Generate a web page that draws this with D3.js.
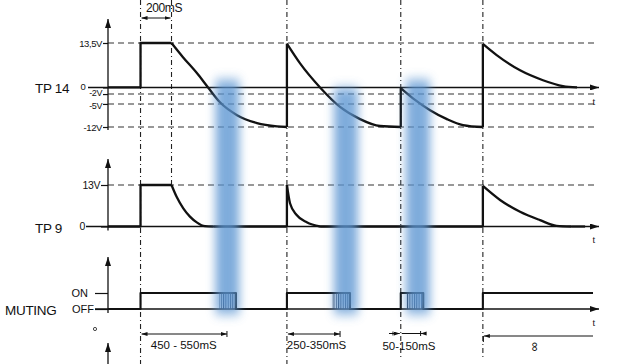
<!DOCTYPE html>
<html><head><meta charset="utf-8">
<script src="https://cdn.jsdelivr.net/npm/d3@7"></script>
<style>
body{margin:0;background:#fff}
svg{display:block}
text{font-family:"Liberation Sans",Arial,sans-serif;fill:#111}
</style>
</head><body><svg id="c" width="629" height="364"></svg>
<script>
// ---------------- data ----------------
const eventTimes = [210, 410, 1155, 1890, 2420];           // ms (schematic)
const tp14Ticks = [13.5, 0, -2, -5, -12];
const tp14Labels = ["13,5V", "0", "-2V", "-5V", "-12V"];
const tp9Ticks = [13, 0];
const tp9Labels = ["13V", "0"];
const mutingTicks = [1, 0];
const mutingLabels = ["ON", "OFF"];

const tp14Steps = [[0,0],[210,0],[210,13.5],[410,13.5]];
const tp14Decay1 = [[410,13.5],[484,9.2],[575,4.3],[646,0],[723,-4.5],[833,-8.4],[962,-10.8],[1091,-11.8],[1155,-12]];
const tp14Jump1 = [[1155,-12],[1155,13.3]];
const tp14Decay2 = [[1155,13.3],[1240,7.3],[1369,0],[1498,-5.9],[1627,-9.6],[1756,-11.7],[1890,-12]];
const tp14Jump2 = [[1890,-12],[1890,-0.2]];
const tp14Decay3 = [[1890,-0.2],[1969,-3.3],[2079,-6.9],[2188,-9.6],[2292,-11.4],[2420,-12]];
const tp14Jump3 = [[2420,-12],[2420,13.2]];
const tp14Decay4 = [[2420,13.2],[2509,9.8],[2660,5.2],[2808,2.2],[2937,0.4],[3028,0]];

const tp9Steps = [[0,0],[210,0],[210,13],[410,13]];
const tp9Decay1 = [[410,13],[443,9.3],[486,5.7],[529,3.1],[573,1.3],[626,0.1],[680,0]];
const tp9Flat1 = [[680,0],[1155,0],[1155,13]];
const tp9Decay2 = [[1155,13],[1175,7.3],[1218,3.6],[1283,1.3],[1369,0]];
const tp9Flat2 = [[1369,0],[2420,0],[2420,12.7]];
const tp9Decay3 = [[2420,12.7],[2531,8.3],[2660,4.6],[2789,2.0],[2896,0.2],[2990,0]];
const tp9Flat3 = [[2990,0],[3080,0]];

const mutingWave = [[0,0],[210,0],[210,1],[826,1],[826,0],[1155,0],[1155,1],[1562,1],[1562,0],
                    [1890,0],[1890,1],[2035,1],[2035,0],[2420,0],[2420,1],[3131,1]];
const mutingHatch = [[717,826],[1446,1562],[1924,2035]];
const dimensions = [
  {from:210, to:768, label:"450 - 550mS"},
  {from:1155, to:1498, label:"250-350mS"}
];
const shortDim = {from:1814, mid:1890, end:2046, label:"50-150mS"};
const holdDim = {from:210, to:410, label:"200mS"};
const infDim = {from:2420, to:3131, label:"∞"};
const highlightCenters = [771, 1536, 2001];

// ---------------- scales ----------------
const x = d3.scaleLinear().domain([0, 3160]).range([108, 597.5]);
const y14 = d3.scaleLinear().domain([-12, 13.5]).range([127, 43]);
const y9 = d3.scaleLinear().domain([0, 13]).range([226.5, 185]);
const yM = d3.scaleLinear().domain([0, 1]).range([309, 293]);

const svg = d3.select("#c");
const defs = svg.append("defs");
function marker(id, w, h){
  defs.append("marker").attr("id", id).attr("markerUnits","userSpaceOnUse")
    .attr("markerWidth", w).attr("markerHeight", h).attr("refX", w).attr("refY", h/2)
    .attr("orient","auto-start-reverse")
    .append("path").attr("d",`M0,0L${w},${h/2}L0,${h}Z`).attr("fill","#111");
}
marker("ax", 9, 6);
marker("dm", 6, 4);
defs.append("filter").attr("id","blur").attr("x","-150%").attr("y","-20%").attr("width","400%").attr("height","140%")
  .append("feGaussianBlur").attr("stdDeviation","5 6");
const pat = defs.append("pattern").attr("id","hatch").attr("patternUnits","userSpaceOnUse").attr("width",2.3).attr("height",10);
pat.append("rect").attr("width",1).attr("height",10).attr("fill","#1b2840");

const dashH = "6,4", dashV = "5,3,1,3";

// ---------------- vertical dashed event lines ----------------
const vEnds = [364, 186, 364, 358, 358];
svg.append("g").selectAll("line").data(eventTimes).join("line")
  .attr("x1", d => x(d)).attr("x2", d => x(d))
  .attr("y1", 0).attr("y2", (d,i) => vEnds[i])
  .attr("stroke","#222").attr("stroke-width",1.1).attr("stroke-dasharray",dashV);

// ---------------- horizontal dashed reference lines ----------------
svg.append("g").selectAll("line").data(tp14Ticks.filter(d => d !== 0)).join("line")
  .attr("x1", 108).attr("x2", 597).attr("y1", d => y14(d)).attr("y2", d => y14(d))
  .attr("stroke","#333").attr("stroke-width",1.1).attr("stroke-dasharray",dashH);
svg.append("g").selectAll("line").data(tp9Ticks.filter(d => d !== 0)).join("line")
  .attr("x1", 108).attr("x2", 597).attr("y1", d => y9(d)).attr("y2", d => y9(d))
  .attr("stroke","#333").attr("stroke-width",1.1).attr("stroke-dasharray",dashH);

// ---------------- axes ----------------
function tickAxis(scale, vals, labels, size, fs){
  const g = svg.append("g").attr("transform","translate(108,0)")
    .call(d3.axisLeft(scale).tickValues(vals).tickFormat((d,i)=>labels[i]).tickSize(size).tickPadding(1));
  g.select(".domain").remove();
  g.selectAll("text").style("font-size", fs).style("letter-spacing","-0.4px").attr("fill","#111");
  g.selectAll("line").attr("stroke","#111").attr("stroke-width",1.2);
  return g;
}
const a14 = tickAxis(y14, tp14Ticks, tp14Labels, 5, "9.5px");
a14.selectAll(".tick").filter(d => d === 0).select("text").attr("x", -22.5).attr("dy","0.2em");
a14.selectAll(".tick").filter(d => d === -2).select("text").style("font-size","9px").attr("dy","0.2em");
a14.selectAll(".tick").filter(d => d === -5).select("text").style("font-size","9px").attr("dy","0.45em");
const a9 = tickAxis(y9, tp9Ticks, tp9Labels, 7, "10.5px");
a9.selectAll(".tick").filter(d => d === 0).select("text").attr("x", -23);
const aM = tickAxis(yM, mutingTicks, mutingLabels, 13, "11px");
aM.selectAll("text").style("letter-spacing","0px");
aM.selectAll(".tick").filter(d => d === 1).select("text").attr("x", -20);

function axisLine(x1,y1,x2,y2,w){
  svg.append("line").attr("x1",x1).attr("y1",y1).attr("x2",x2).attr("y2",y2)
    .attr("stroke","#111").attr("stroke-width",w||1.3).attr("marker-end","url(#ax)");
}
axisLine(x(0), y14(-12)+3, x(0), 19);
axisLine(x(0), y9(0)+4, x(0), 159);
axisLine(x(0), yM(0)+4, x(0), 257);
axisLine(x(0), 364, x(0), 343);
axisLine(88, y14(0), 599, y14(0), 1.4);
axisLine(86, y9(0), 599, y9(0), 1.4);
axisLine(95, yM(0), 599, yM(0), 1.4);

// ---------------- waveforms ----------------
const wave = (data, ys, curve, w) => svg.append("path").datum(data)
  .attr("d", d3.line().x(d => x(d[0])).y(d => ys(d[1])).curve(curve)(data))
  .attr("fill","none").attr("stroke","#111").attr("stroke-width", w||2.3).attr("stroke-linejoin","round");

[tp14Steps, tp14Jump1, tp14Jump2, tp14Jump3].forEach(s => wave(s, y14, d3.curveLinear));
[tp14Decay1, tp14Decay2, tp14Decay3, tp14Decay4].forEach(s => wave(s, y14, d3.curveMonotoneX));
[tp9Steps, tp9Flat1, tp9Flat2, tp9Flat3].forEach(s => wave(s, y9, d3.curveLinear));
[tp9Decay1, tp9Decay2, tp9Decay3].forEach(s => wave(s, y9, d3.curveMonotoneX));

svg.append("g").selectAll("rect").data(mutingHatch).join("rect")
  .attr("x", d => x(d[0])).attr("width", d => x(d[1]) - x(d[0]))
  .attr("y", yM(1)).attr("height", yM(0) - yM(1)).attr("fill","url(#hatch)");
wave(mutingWave, yM, d3.curveLinear, 2.1);

// ---------------- dimension arrows ----------------
function dimLine(x1, x2, yy, startArrow, endArrow){
  const l = svg.append("line").attr("x1",x1).attr("x2",x2).attr("y1",yy).attr("y2",yy)
    .attr("stroke","#111").attr("stroke-width",1);
  if (startArrow) l.attr("marker-start","url(#dm)");
  if (endArrow) l.attr("marker-end","url(#dm)");
}
dimLine(x(holdDim.from)+1, x(holdDim.to)-1, 18, true, true);
svg.append("text").attr("x", (x(holdDim.from)+x(holdDim.to))/2 + 8).attr("y", 8)
  .attr("text-anchor","middle").attr("dominant-baseline","central")
  .style("font-size","12px").style("letter-spacing","-0.4px").text(holdDim.label);

dimensions.forEach(d => {
  dimLine(x(d.from)+1, x(d.to), 334, true, true);
  svg.append("line").attr("x1", x(d.to)).attr("x2", x(d.to)).attr("y1", 331).attr("y2", 337).attr("stroke","#111");
  svg.append("text").attr("x", (x(d.from)+x(d.to))/2 + (d.from===210 ? 0 : 3)).attr("y", 345)
    .attr("text-anchor","middle").attr("dominant-baseline","central")
    .style("font-size","11.5px").text(d.label);
});
dimLine(x(shortDim.from), x(shortDim.mid)-1, 333.5, false, true);
dimLine(x(shortDim.mid)+1, x(shortDim.end), 333.5, false, false);
svg.append("line").attr("x1", x(2018)).attr("x2", x(2018)).attr("y1", 331).attr("y2", 336).attr("stroke","#111");
svg.append("line").attr("x1", x(shortDim.from)+4).attr("x2", x(shortDim.from)+4).attr("y1", 331.5).attr("y2", 335.5).attr("stroke","#111");
svg.append("path").attr("d", `M${x(2018)},333.5l6,-2v4z`).attr("fill","#111");
svg.append("text").attr("x", (x(shortDim.from)+x(shortDim.end))/2 + 2).attr("y", 346)
  .attr("text-anchor","middle").attr("dominant-baseline","central")
  .style("font-size","11.5px").text(shortDim.label);
dimLine(x(infDim.from)+1, x(infDim.to), 336, true, false);
svg.append("line").attr("x1", x(infDim.from)+0.5).attr("x2", x(infDim.from)+0.5).attr("y1", 336).attr("y2", 342).attr("stroke","#111");
svg.append("text").attr("transform", `translate(${x((infDim.from+infDim.to)/2)-2},347) rotate(90)`)
  .attr("text-anchor","middle").attr("dominant-baseline","central")
  .style("font-size","13px").text(infDim.label);

// ---------------- labels ----------------
const big = (t, xx, yy) => svg.append("text").attr("x", xx).attr("y", yy)
  .attr("dominant-baseline","central").style("font-size","13.5px").style("letter-spacing","-0.3px").text(t);
big("TP 14", 35, 88);
big("TP 9", 35, 228);
big("MUTING", 5, 310);
const tLab = (yy) => svg.append("text").attr("x", 594).attr("y", yy).attr("text-anchor","middle")
  .attr("dominant-baseline","central").style("font-size","10px").style("font-family","'Liberation Serif',serif").text("t");
tLab(101); tLab(239); tLab(322);
svg.append("circle").attr("cx", 95).attr("cy", 329).attr("r", 1.6).attr("fill","none").attr("stroke","#333").attr("stroke-width",0.9);

// ---------------- blue highlight bands ----------------
const bandTops = [80, 88, 80];
svg.append("g").selectAll("rect").data(highlightCenters).join("rect")
  .attr("x", d => x(d) - 12).attr("width", 24)
  .attr("y", (d,i) => bandTops[i]).attr("height", (d,i) => 314 - bandTops[i])
  .attr("fill","#5b95d2").attr("opacity",0.78).attr("filter","url(#blur)");
</script>
</body></html>
